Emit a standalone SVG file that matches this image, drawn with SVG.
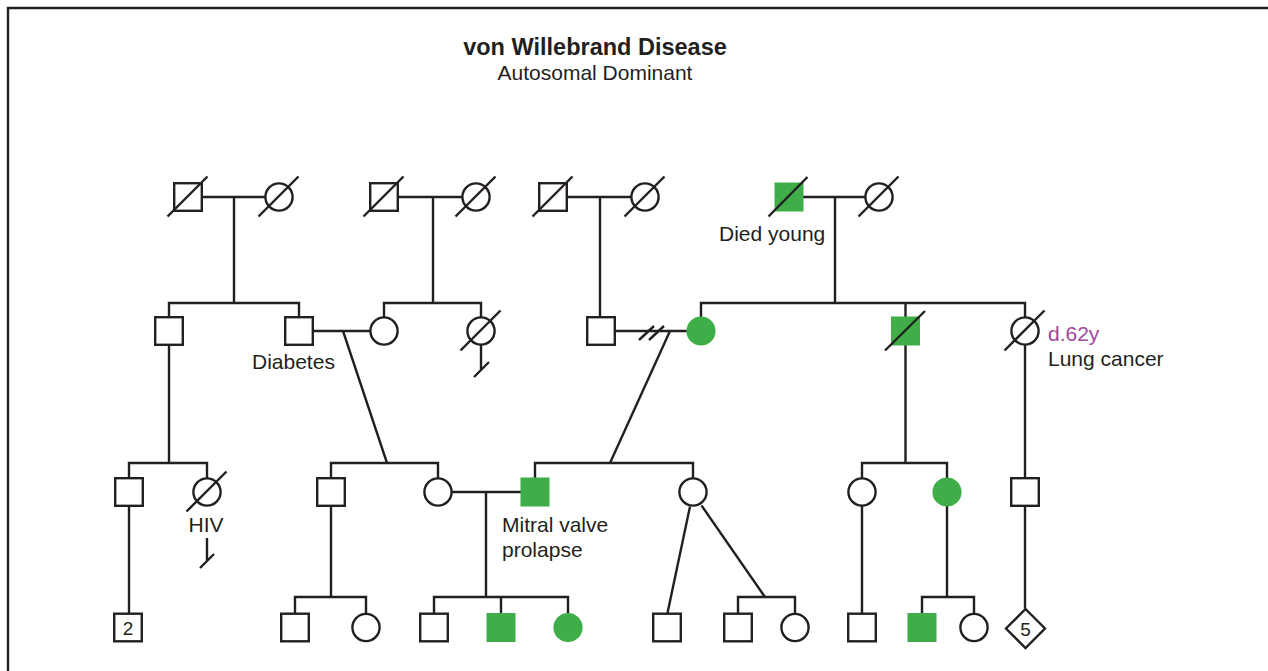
<svg xmlns="http://www.w3.org/2000/svg" width="1268" height="671" viewBox="0 0 1268 671">
<style>
.ln{stroke:#231f20;stroke-width:2.4;fill:none;stroke-linecap:butt}
.o{fill:#fff;stroke:#231f20;stroke-width:2.4}
.g{fill:#3fae49;stroke:none}
.d{stroke:#231f20;stroke-width:2.4}
.t{font-family:"Liberation Sans",Arial,sans-serif;font-size:21px;fill:#231f20}
.h{font-size:23.5px;font-weight:bold}
.n{font-size:19px}
.p{fill:#a0479c}
</style>
<rect x="0" y="0" width="1268" height="671" fill="#fff"/>
<path class="ln" d="M8,672 V8 H1270" stroke-width="2.6"/>
<g id="title">
<text class="t h" x="595" y="55" text-anchor="middle">von Willebrand Disease</text>
<text class="t" x="595" y="79.5" text-anchor="middle">Autosomal Dominant</text>
</g>
<g id="connectors" class="ln">
<path d="M202,197 H265 M234,197 V303"/>
<path d="M398,197 H462 M433,197 V303"/>
<path d="M567,197 H631 M600,197 V317"/>
<path d="M803,197 H865 M835,197 V303"/>
<path d="M169,317 V303 H299 V317"/>
<path d="M384,317 V303 H481 V317"/>
<path d="M701,317 V303 H1025 V317 M905.5,303 V317"/>
<path d="M313,331 H370 M343,331 L387,463"/>
<path d="M615,331 H687 M670,331 L610,463"/>
<path d="M639,340 L654,326 M649,340 L664,326"/>
<path d="M481,345 V369.5 M474,377 L489,362"/>
<path d="M169,345 V463 M129,478 V463 H207 V478"/>
<path d="M331,478 V463 H438 V478"/>
<path d="M535,478 V463 H693 V478"/>
<path d="M905.5,345 V463 M862,478 V463 H947 V478"/>
<path d="M1025,345 V478"/>
<path d="M207,538 V561 M200,568 L214,554"/>
<path d="M452,492 H521 M486,492 V597"/>
<path d="M129,506 V613"/>
<path d="M331,506 V597 M295,613 V597 H366 V613"/>
<path d="M434,613 V597 H568 V613 M501,597 V613"/>
<path d="M690,506.5 L667.5,613"/>
<path d="M701.5,505.5 L765,597 M738,613 V597 H795 V613"/>
<path d="M862,506 V613"/>
<path d="M947,506 V597 M922,613 V597 H974 V613"/>
<path d="M1025,506 V608.5"/>
</g>
<g id="I1"><rect class="o" x="174.2" y="183.2" width="27.6" height="27.6"/><line class="d" x1="167.5" y1="216.5" x2="207.5" y2="176.5"/></g>
<g id="I2"><circle class="o" cx="279" cy="197" r="13.6"/><line class="d" x1="258.5" y1="216.5" x2="298.5" y2="176.5"/></g>
<g id="I3"><rect class="o" x="370.2" y="183.2" width="27.6" height="27.6"/><line class="d" x1="363.5" y1="216.5" x2="403.5" y2="176.5"/></g>
<g id="I4"><circle class="o" cx="476" cy="197" r="13.6"/><line class="d" x1="455.5" y1="216.5" x2="495.5" y2="176.5"/></g>
<g id="I5"><rect class="o" x="539.2" y="183.2" width="27.6" height="27.6"/><line class="d" x1="532.5" y1="216.5" x2="572.5" y2="176.5"/></g>
<g id="I6"><circle class="o" cx="645" cy="197" r="13.6"/><line class="d" x1="624.5" y1="216.5" x2="664.5" y2="176.5"/></g>
<g id="I7"><rect class="g" x="774.5" y="182.5" width="29" height="29"/><line class="d" x1="768.5" y1="216.5" x2="807.5" y2="177"/><text class="t" x="719" y="241">Died young</text></g>
<g id="I8"><circle class="o" cx="879" cy="197" r="13.6"/><line class="d" x1="858.5" y1="216.5" x2="898.5" y2="176.5"/></g>
<g id="II1"><rect class="o" x="155.2" y="317.2" width="27.6" height="27.6"/></g>
<g id="II2"><rect class="o" x="285.2" y="317.2" width="27.6" height="27.6"/><text class="t" x="252" y="368.5">Diabetes</text></g>
<g id="II3"><circle class="o" cx="384" cy="331" r="13.6"/></g>
<g id="II4"><circle class="o" cx="481" cy="331" r="13.6"/><line class="d" x1="460.5" y1="350.5" x2="500.5" y2="310.5"/></g>
<g id="II5"><rect class="o" x="587.2" y="317.2" width="27.6" height="27.6"/></g>
<g id="II6"><circle class="g" cx="701" cy="331" r="14.6"/></g>
<g id="II7"><rect class="g" x="891" y="316.5" width="29" height="29"/><line class="d" x1="885" y1="350.5" x2="925" y2="311"/></g>
<g id="II8"><circle class="o" cx="1025" cy="331" r="13.6"/><line class="d" x1="1004.5" y1="350.5" x2="1044.5" y2="310.5"/><text class="t p" x="1048" y="341">d.62y</text><text class="t" x="1048" y="366">Lung cancer</text></g>
<g id="III1"><rect class="o" x="115.2" y="478.2" width="27.6" height="27.6"/></g>
<g id="III2"><circle class="o" cx="207" cy="492" r="13.6"/><line class="d" x1="186.5" y1="511.5" x2="226.5" y2="471.5"/><text class="t" x="206" y="532" text-anchor="middle">HIV</text></g>
<g id="III3"><rect class="o" x="317.2" y="478.2" width="27.6" height="27.6"/></g>
<g id="III4"><circle class="o" cx="438" cy="492" r="13.6"/></g>
<g id="III5"><rect class="g" x="520.5" y="477.5" width="29" height="29"/><text class="t" x="502" y="532">Mitral valve</text><text class="t" x="502" y="557">prolapse</text></g>
<g id="III6"><circle class="o" cx="693" cy="492" r="13.6"/></g>
<g id="III7"><circle class="o" cx="862" cy="492" r="13.6"/></g>
<g id="III8"><circle class="g" cx="947" cy="492" r="14.6"/></g>
<g id="III9"><rect class="o" x="1011.2" y="478.2" width="27.6" height="27.6"/></g>
<g id="IV1"><rect class="o" x="114.2" y="613.7" width="27.6" height="27.6"/><text class="t n" x="128" y="634.5" text-anchor="middle">2</text></g>
<g id="IV2"><rect class="o" x="281.2" y="613.7" width="27.6" height="27.6"/></g>
<g id="IV3"><circle class="o" cx="366" cy="627.5" r="13.6"/></g>
<g id="IV4"><rect class="o" x="420.2" y="613.7" width="27.6" height="27.6"/></g>
<g id="IV5"><rect class="g" x="486.5" y="613" width="29" height="29"/></g>
<g id="IV6"><circle class="g" cx="568" cy="627.5" r="14.6"/></g>
<g id="IV7"><rect class="o" x="653.2" y="613.7" width="27.6" height="27.6"/></g>
<g id="IV8"><rect class="o" x="724.2" y="613.7" width="27.6" height="27.6"/></g>
<g id="IV9"><circle class="o" cx="795" cy="627.5" r="13.6"/></g>
<g id="IV10"><rect class="o" x="848.2" y="613.7" width="27.6" height="27.6"/></g>
<g id="IV11"><rect class="g" x="907.5" y="613" width="29" height="29"/></g>
<g id="IV12"><circle class="o" cx="974" cy="627.5" r="13.6"/></g>
<g id="IV13"><polygon class="o" points="1025.5,609 1045,628.5 1025.5,648 1006,628.5"/><text class="t n" x="1025.5" y="635.5" text-anchor="middle">5</text></g>
</svg>
